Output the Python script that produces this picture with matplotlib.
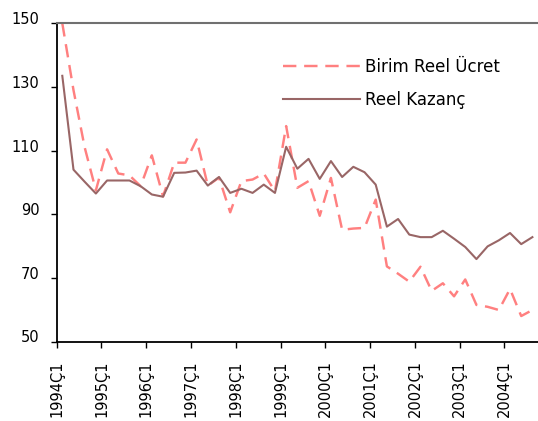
import matplotlib.pyplot as plt
import matplotlib.transforms as mtransforms
import numpy as np


plt.rcParams.update({
    "font.family": "DejaVu Sans",
    "font.size": 10.5,
})

# quarterly index values, 1994Q1 .. 2004Q3
birim_reel_ucret = [150.0, 129.0, 111.0, 97.5, 110.4, 102.8, 102.2, 98.8, 108.5, 95.6,
                    106.2, 106.2, 113.5, 99.0, 101.5, 90.6, 100.4, 100.9, 102.8, 97.2,
                    117.7, 98.3, 100.4, 89.5, 101.4, 85.1, 85.5, 85.7, 94.6, 73.6,
                    71.3, 68.8, 73.5, 65.9, 68.3, 64.2, 69.5, 61.5, 60.9, 59.9,
                    66.5, 58.0, 59.9]
reel_kazanc = [133.5, 104.0, 100.2, 96.5, 100.6, 100.6, 100.6, 98.8, 96.2, 95.5,
               103.0, 103.1, 103.7, 99.0, 101.7, 96.7, 98.0, 96.7, 99.3, 96.7,
               111.2, 104.3, 107.4, 101.1, 106.7, 101.7, 104.9, 103.2, 99.3, 86.1,
               88.5, 83.6, 82.8, 82.8, 84.8, 82.3, 79.7, 75.9, 79.9, 81.8,
               84.1, 80.6, 82.8]
tick_labels = ["1994Ç1", "1995Ç1", "1996Ç1", "1997Ç1", "1998Ç1", "1999Ç1",
               "2000Ç1", "2001Ç1", "2002Ç1", "2003Ç1", "2004Ç1"]
y_ticks = [50, 70, 90, 110, 130, 150]


def main() -> None:
    fig = plt.figure(figsize=(5.38, 4.21), dpi=100)
    ax = fig.add_axes([56.7 / 538, 79.5 / 421, 1 - 56.7 / 538, 318.2 / 421])

    x = np.arange(len(reel_kazanc))
    ax.plot(x, birim_reel_ucret, color="#ff8080", linewidth=1.75,
            linestyle=(0, (5.5, 3.2)), label="Birim Reel Ücret")
    ax.plot(x, reel_kazanc, color="#996666", linewidth=1.5, label="Reel Kazanç")

    ax.set_xlim(-0.5, 42.5)
    ax.set_ylim(50, 150)
    ax.set_xticks(np.arange(len(tick_labels)) * 4 - 0.5)
    ax.set_xticklabels(tick_labels, rotation=90, fontsize=10.5)
    ax.set_yticks(y_ticks)

    for side in ("left", "bottom"):
        ax.spines[side].set_linewidth(1.3)
        ax.spines[side].set_color("black")
    ax.spines["top"].set_color("#707070")
    ax.spines["top"].set_linewidth(1.5)
    ax.spines["right"].set_visible(False)
    ax.tick_params(axis="x", direction="out", length=4.5, width=1, pad=9)
    ax.tick_params(axis="y", direction="out", length=4.5, width=1, pad=8)

    shift = mtransforms.ScaledTranslation(0, 5 / 100, fig.dpi_scale_trans)
    for lab in ax.get_yticklabels():
        lab.set_transform(lab.get_transform() + shift)

    ax.legend(loc="upper left", bbox_to_anchor=(283 / 538, 1 - 58 / 421),
              bbox_transform=fig.transFigure, frameon=False, handlelength=4.6,
              handletextpad=0.3, labelspacing=0.9, borderpad=0, borderaxespad=0,
              fontsize=12)

    fig.savefig("out.png", dpi=100)


if __name__ == "__main__":
    main()
